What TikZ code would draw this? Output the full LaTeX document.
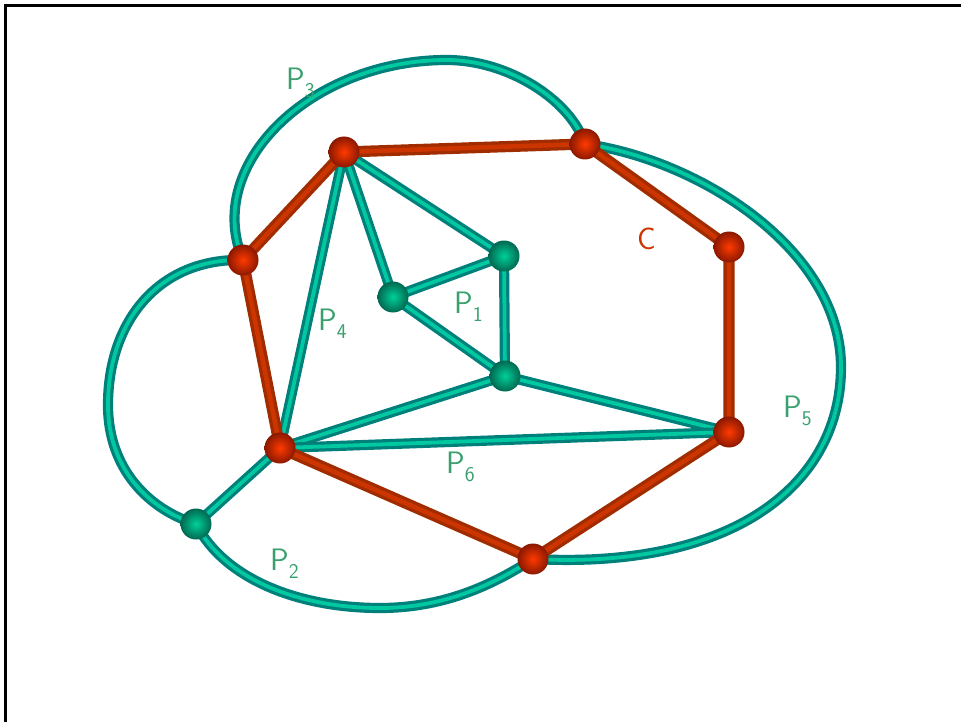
\documentclass[tikz,border=0pt]{standalone}
\usepackage{fontspec}
\definecolor{tealdk}{RGB}{0,128,122}
\definecolor{teallt}{RGB}{0,200,160}
\definecolor{reddk}{RGB}{160,44,0}
\definecolor{redlt}{RGB}{204,52,0}
\definecolor{redc}{RGB}{255,58,0}
\definecolor{rede}{RGB}{138,24,0}
\definecolor{grnc}{RGB}{0,208,154}
\definecolor{grne}{RGB}{0,104,80}
\definecolor{labg}{RGB}{58,160,110}
\definecolor{labr}{RGB}{204,52,0}
\newcommand\subd[1]{\raisebox{-8pt}{\fontsize{21}{21}\selectfont #1}}
\begin{document}
\begin{tikzpicture}[x=1pt,y=-1pt,
  gline/.style={draw=tealdk, double=teallt, line width=3.2pt, double distance=3.8pt},
  rline/.style={draw=reddk, double=redlt, line width=3.3pt, double distance=4.6pt},
  rball/.style={circle, minimum size=31pt, inner sep=0pt, shading=radial, inner color=redc, outer color=rede},
  gball/.style={circle, minimum size=31pt, inner sep=0pt, shading=radial, inner color=grnc, outer color=grne},
  lab/.style={text=labg, font=\sffamily\fontsize{31}{31}\selectfont, inner sep=0pt, anchor=base west},
  labc/.style={text=labr, font=\sffamily\fontsize{31}{31}\selectfont, inner sep=0pt, anchor=base west}]
\useasboundingbox (0,0) rectangle (961,722);
\draw[line width=3pt] (5.3,722) -- (5.3,5.3) -- (961,5.3);
% coordinates
\coordinate (A) at (344,152);
\coordinate (B) at (585,144);
\coordinate (Cn) at (729,247);
\coordinate (D) at (729,432);
\coordinate (E) at (533,559);
\coordinate (F) at (280,448);
\coordinate (G) at (243,260);
\coordinate (H) at (504,256);
\coordinate (I) at (393,297);
\coordinate (J) at (505,376);
\coordinate (K) at (196,524);
\coordinate (t3) at (447,60);
\coordinate (l2) at (108,405);
\coordinate (b2) at (380,608);
\coordinate (r5) at (841,367);
% curves
\draw[gline] (G) .. controls (203,165) and (310,60) .. (t3)
  .. controls (507,60) and (570,99) .. (B);
\draw[gline] (G) .. controls (160,258) and (108,320) .. (l2)
  .. controls (108,470) and (150,510) .. (K);
\draw[gline] (K) .. controls (225,580) and (300,608) .. (b2)
  .. controls (450,608) and (500,580) .. (E);
\draw[gline] (B) .. controls (700,160) and (841,250) .. (r5)
  .. controls (841,480) and (740,570) .. (E);
% green edges
\draw[gline] (A) -- (H);
\draw[gline] (A) -- (I);
\draw[gline] (I) -- (H);
\draw[gline] (H) -- (J);
\draw[gline] (I) -- (J);
\draw[gline] (J) -- (F);
\draw[gline] (J) -- (D);
\draw[gline] (F) -- (D);
\draw[gline] (A) -- (F);
\draw[gline] (F) -- (K);
% red cycle
\draw[rline] (A) -- (B) -- (Cn) -- (D) -- (E) -- (F) -- (G) -- cycle;
% balls
\node[rball] (nA) at (A) {};
\node[rball] (nB) at (B) {};
\node[rball] (nC) at (Cn) {};
\node[rball] (nD) at (D) {};
\node[rball] (nE) at (E) {};
\node[rball] (nF) at (F) {};
\node[rball] (nG) at (G) {};
\node[gball] (nH) at (H) {};
\node[gball] (nI) at (I) {};
\node[gball] (nJ) at (J) {};
\node[gball] (nK) at (K) {};
% labels
\node[lab] (L1) at (454,313) {P\subd{1}};
\node[lab] (L2) at (270,570) {P\subd{2}};
\node[lab] (L3) at (286,90) {P\subd{3}};
\node[lab] (L4) at (318,330) {P\subd{4}};
\node[lab] (L5) at (783,417) {P\subd{5}};
\node[lab] (L6) at (446,473) {P\subd{6}};
\node[labc] (LC) at (637,250) {C};
\end{tikzpicture}
\end{document}
